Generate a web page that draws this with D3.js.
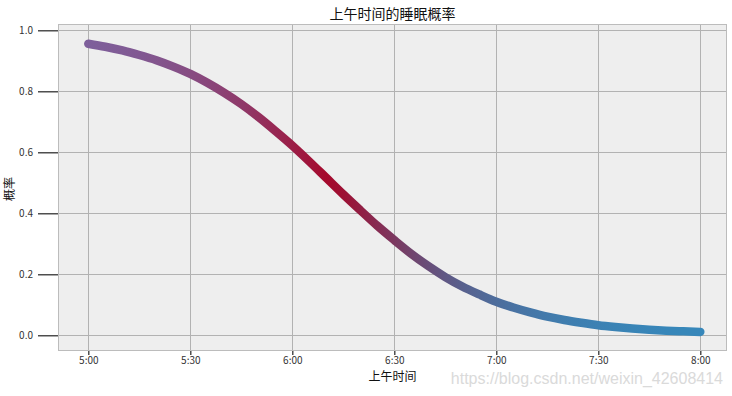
<!DOCTYPE html>
<html>
<head>
<meta charset="utf-8">
<script src="https://cdn.jsdelivr.net/npm/d3@7"></script>
<style>
  html, body { margin: 0; padding: 0; background: #ffffff; }
  svg { display: block; }
  text { font-family: "Noto Sans CJK SC", "DejaVu Sans", sans-serif; }
</style>
</head>
<body>
<svg id="chart" width="732" height="396"></svg>
<script>
// ---- data ----
const times = ["5:00","5:05","5:10","5:15","5:20","5:25","5:30","5:35","5:40","5:45",
               "5:50","5:55","6:00","6:05","6:10","6:15","6:20","6:25","6:30","6:35",
               "6:40","6:45","6:50","6:55","7:00","7:05","7:10","7:15","7:20","7:25",
               "7:30","7:35","7:40","7:45","7:50","7:55","8:00"];
const probs = [0.956,0.946,0.934,0.919,0.902,0.881,0.857,0.828,0.795,0.758,
               0.716,0.670,0.622,0.570,0.516,0.462,0.410,0.359,0.312,0.267,
               0.227,0.191,0.160,0.134,0.110,0.091,0.075,0.061,0.050,0.041,
               0.033,0.027,0.022,0.018,0.015,0.013,0.011];
const xTickLabels = ["5:00","5:30","6:00","6:30","7:00","7:30","8:00"];
const yTickValues = [0.0, 0.2, 0.4, 0.6, 0.8, 1.0];
const titleText = "上午时间的睡眠概率";
const xLabel = "上午时间";
const yLabel = "概率";
const watermark = "https://blog.csdn.net/weixin_42608414";

// ---- layout ----
const L = 58, R = 727, T = 24, B = 351;
const parse = d3.timeParse("%H:%M");
const svg = d3.select("#chart");

const x = d3.scaleTime()
  .domain([new Date(1900,0,1,4,51,5), new Date(1900,0,1,8,7,51)])
  .range([L, R]);
const y = d3.scaleLinear().domain([-0.0515, 1.0207]).range([B, T]);

const color = d3.scaleLinear()
  .domain([0, 0.5, 1])
  .range(["#348ABD", "#A60628", "#7A68A6"])
  .interpolate(d3.interpolateRgb);

const data = times.map((t, i) => ({ t: parse(t), p: probs[i] }));

// background
svg.append("rect").attr("x", L).attr("y", T).attr("width", R - L).attr("height", B - T)
  .attr("fill", "#eeeeee");

// grid
const xTicks = xTickLabels.map(parse);
svg.append("g").selectAll("line").data(xTicks).join("line")
  .attr("x1", d => Math.round(x(d)) + 0.5).attr("x2", d => Math.round(x(d)) + 0.5)
  .attr("y1", T).attr("y2", B)
  .attr("stroke", "#b2b2b2").attr("stroke-width", 1);
svg.append("g").selectAll("line").data(yTickValues).join("line")
  .attr("x1", L).attr("x2", R)
  .attr("y1", d => Math.round(y(d)) + 0.5).attr("y2", d => Math.round(y(d)) + 0.5)
  .attr("stroke", "#b2b2b2").attr("stroke-width", 1);

// gradient along x following probability color
const defs = svg.append("defs");
const x0 = x(data[0].t), x1 = x(data[data.length - 1].t);
const grad = defs.append("linearGradient").attr("id", "curveGrad")
  .attr("gradientUnits", "userSpaceOnUse")
  .attr("x1", x0).attr("x2", x1).attr("y1", 0).attr("y2", 0);
grad.selectAll("stop").data(data).join("stop")
  .attr("offset", d => (x(d.t) - x0) / (x1 - x0))
  .attr("stop-color", d => color(d.p));

// curve
const line = d3.line().x(d => x(d.t)).y(d => y(d.p)).curve(d3.curveMonotoneX);
svg.append("path").datum(data)
  .attr("d", line)
  .attr("fill", "none")
  .attr("stroke", "url(#curveGrad)")
  .attr("stroke-width", 8.5)
  .attr("stroke-linecap", "round");

// frame
svg.append("rect").attr("x", L + 0.5).attr("y", T + 0.5)
  .attr("width", R - L - 1).attr("height", B - T - 1)
  .attr("fill", "none").attr("stroke", "#bcbcbc").attr("stroke-width", 1);

// y axis
const yAxis = svg.append("g").attr("transform", `translate(${L},0)`)
  .call(d3.axisLeft(y).tickValues(yTickValues).tickFormat(d3.format(".1f"))
    .tickSize(20).tickPadding(5));
yAxis.select(".domain").remove();
yAxis.selectAll(".tick line").attr("stroke", "#222").attr("stroke-width", 1.2);
yAxis.selectAll(".tick text").attr("fill", "#333").style("font-size", "10px")
  .style("font-family", "'Noto Sans CJK SC', 'DejaVu Sans', sans-serif");

// x axis
const xAxis = svg.append("g").attr("transform", `translate(0,${B})`)
  .call(d3.axisBottom(x).tickValues(xTicks).tickFormat(d3.timeFormat("%-H:%M"))
    .tickSize(4).tickPadding(2));
xAxis.select(".domain").remove();
xAxis.selectAll(".tick line").attr("stroke", "#222").attr("stroke-width", 1.2);
xAxis.selectAll(".tick text").attr("fill", "#333").style("font-size", "10px")
  .style("font-family", "'Noto Sans CJK SC', 'DejaVu Sans', sans-serif");

// watermark
svg.append("text").attr("x", 723).attr("y", 384).attr("text-anchor", "end")
  .attr("fill", "#dadada")
  .style("font-family", "'Liberation Sans', Arial, sans-serif").style("font-size", "16px")
  .text(watermark);

// titles
svg.append("text").attr("x", (L + R) / 2).attr("y", 19).attr("text-anchor", "middle")
  .attr("fill", "#111").style("font-size", "14px").text(titleText);
svg.append("text").attr("x", (L + R) / 2).attr("y", 381).attr("text-anchor", "middle")
  .attr("fill", "#111").style("font-size", "12px").text(xLabel);
svg.append("text").attr("transform", `translate(14,189) rotate(-90)`)
  .attr("text-anchor", "middle").attr("fill", "#111").style("font-size", "12px").text(yLabel);
</script>
</body>
</html>
